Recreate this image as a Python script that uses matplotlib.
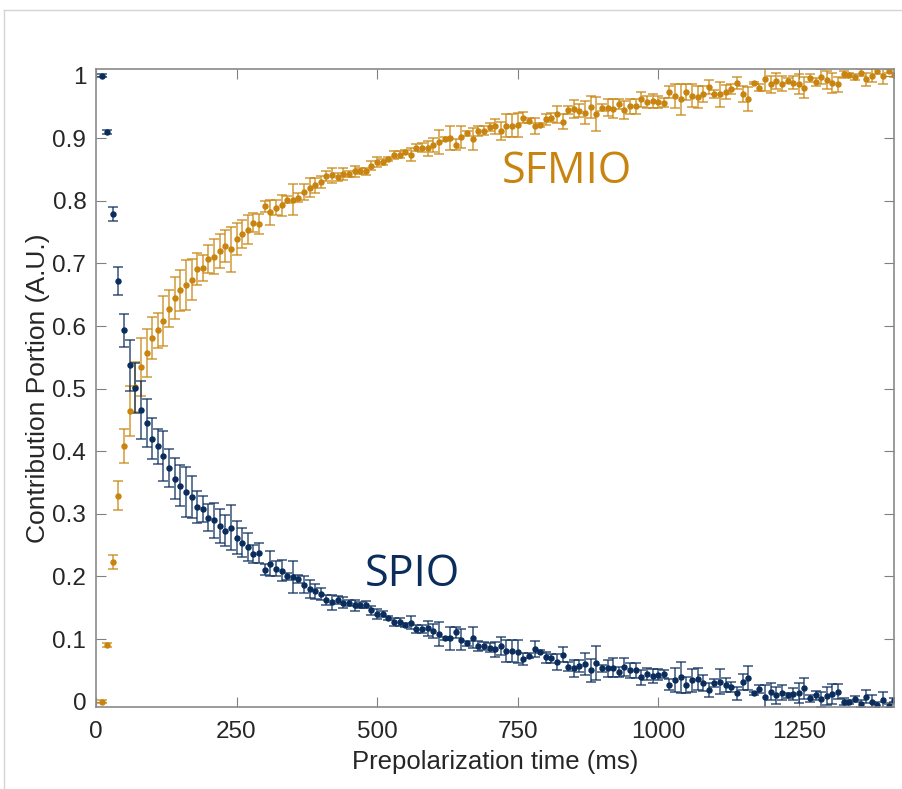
import numpy as np
import matplotlib
matplotlib.use("Agg")
import matplotlib.pyplot as plt
from matplotlib.lines import Line2D

# prepolarization times (ms), sampled every 10 ms
time_ms = np.arange(10, 1430, 10)

spio = [
    1.000, 0.910, 0.779, 0.672, 0.593, 0.537, 0.501, 0.466, 0.445, 0.420,
    0.408, 0.392, 0.373, 0.356, 0.345, 0.335, 0.327, 0.311, 0.308, 0.294,
    0.290, 0.280, 0.273, 0.278, 0.262, 0.254, 0.247, 0.236, 0.238, 0.211,
    0.220, 0.212, 0.209, 0.200, 0.199, 0.196, 0.187, 0.180, 0.176, 0.172,
    0.162, 0.159, 0.162, 0.158, 0.158, 0.154, 0.154, 0.155, 0.146, 0.140,
    0.140, 0.134, 0.127, 0.127, 0.122, 0.126, 0.116, 0.116, 0.117, 0.113,
    0.108, 0.101, 0.101, 0.111, 0.099, 0.093, 0.102, 0.089, 0.089, 0.086,
    0.084, 0.089, 0.081, 0.081, 0.080, 0.068, 0.073, 0.084, 0.080, 0.071,
    0.069, 0.063, 0.075, 0.056, 0.053, 0.057, 0.060, 0.050, 0.062, 0.053,
    0.053, 0.054, 0.048, 0.055, 0.050, 0.050, 0.039, 0.044, 0.041, 0.043,
    0.044, 0.027, 0.034, 0.039, 0.027, 0.034, 0.036, 0.030, 0.019, 0.030,
    0.032, 0.027, 0.023, 0.013, 0.031, 0.038, 0.013, 0.020, 0.008, 0.016,
    0.010, 0.014, 0.010, 0.012, 0.014, 0.021, 0.005, 0.010, 0.004, 0.009,
    0.012, 0.016, 0.000, 0.000, 0.004, -0.003, 0.008, 0.000, -0.006, 0.002,
    -0.007, 0.002,
]

sfmio = [
    0.000, 0.091, 0.223, 0.329, 0.408, 0.464, 0.502, 0.535, 0.557, 0.581,
    0.593, 0.608, 0.628, 0.645, 0.657, 0.666, 0.674, 0.691, 0.693, 0.707,
    0.711, 0.720, 0.728, 0.723, 0.739, 0.747, 0.754, 0.765, 0.763, 0.791,
    0.782, 0.789, 0.793, 0.802, 0.802, 0.805, 0.814, 0.821, 0.825, 0.830,
    0.840, 0.841, 0.838, 0.843, 0.843, 0.847, 0.848, 0.847, 0.856, 0.862,
    0.862, 0.867, 0.873, 0.874, 0.878, 0.874, 0.885, 0.885, 0.884, 0.889,
    0.894, 0.899, 0.900, 0.890, 0.902, 0.908, 0.899, 0.912, 0.912, 0.918,
    0.919, 0.912, 0.920, 0.920, 0.921, 0.933, 0.928, 0.919, 0.921, 0.930,
    0.933, 0.938, 0.926, 0.945, 0.947, 0.944, 0.941, 0.950, 0.939, 0.949,
    0.949, 0.947, 0.954, 0.945, 0.951, 0.951, 0.962, 0.958, 0.960, 0.958,
    0.957, 0.974, 0.968, 0.962, 0.974, 0.968, 0.966, 0.971, 0.982, 0.971,
    0.970, 0.974, 0.979, 0.988, 0.971, 0.963, 0.988, 0.981, 0.994, 0.986,
    0.992, 0.987, 0.992, 0.989, 0.987, 0.981, 0.996, 0.990, 0.998, 0.993,
    0.989, 0.986, 1.002, 1.001, 0.998, 1.005, 0.994, 1.000, 1.008, 1.000,
    1.008, 1.001,
]

# error bar half-lengths (same for both components)
err = [
    0.002, 0.003, 0.011, 0.023, 0.027, 0.040, 0.040, 0.046, 0.038, 0.033,
    0.028, 0.040, 0.030, 0.033, 0.033, 0.040, 0.033, 0.025, 0.021, 0.022,
    0.028, 0.027, 0.025, 0.036, 0.026, 0.023, 0.023, 0.015, 0.016, 0.009,
    0.020, 0.012, 0.017, 0.006, 0.025, 0.007, 0.013, 0.015, 0.012, 0.010,
    0.008, 0.012, 0.006, 0.009, 0.005, 0.009, 0.005, 0.005, 0.007, 0.008,
    0.005, 0.003, 0.006, 0.006, 0.003, 0.010, 0.006, 0.007, 0.012, 0.011,
    0.019, 0.003, 0.019, 0.009, 0.017, 0.004, 0.017, 0.008, 0.007, 0.007,
    0.012, 0.014, 0.018, 0.018, 0.019, 0.009, 0.004, 0.013, 0.003, 0.009,
    0.007, 0.013, 0.012, 0.007, 0.014, 0.010, 0.018, 0.018, 0.027, 0.006,
    0.013, 0.015, 0.008, 0.014, 0.012, 0.012, 0.012, 0.010, 0.011, 0.009,
    0.007, 0.009, 0.019, 0.025, 0.013, 0.018, 0.018, 0.013, 0.011, 0.006,
    0.020, 0.011, 0.008, 0.010, 0.013, 0.019, 0.002, 0.006, 0.019, 0.014,
    0.013, 0.012, 0.004, 0.010, 0.016, 0.017, 0.006, 0.007, 0.012, 0.015,
    0.016, 0.012, 0.005, 0.003, 0.005, 0.005, 0.010, 0.010, 0.005, 0.014,
    0.003, 0.003,
]

navy = "#0b2d5c"
gold = "#c8840f"

plt.rcParams["font.family"] = ["Liberation Sans", "DejaVu Sans"]

fig = plt.figure(figsize=(9.02, 7.89), dpi=100)
ax = fig.add_axes([0.1064, 0.1036, 0.8851, 0.8086])

for vals, col in [(sfmio, gold), (spio, navy)]:
    eb = ax.errorbar(time_ms, vals, yerr=err, fmt="o", color=col, ms=3.6,
                     ecolor=col, elinewidth=1.2, capsize=3.8, capthick=1.2)
    for part in eb[1] + eb[2]:
        part.set_alpha(0.75)

ax.text(837, 0.846, "SFMIO", color=gold, fontsize=31, ha="center", va="center",
        family="Open Sans")
ax.text(562, 0.202, "SPIO", color=navy, fontsize=31, ha="center", va="center",
        family="Open Sans")

ax.set_xlim(0, 1420)
ax.set_ylim(-0.009, 1.0102)
ax.set_xticks([0, 250, 500, 750, 1000, 1250])
ax.set_yticks(np.arange(0, 1.01, 0.1))
ax.set_yticklabels(["0", "0.1", "0.2", "0.3", "0.4", "0.5", "0.6", "0.7", "0.8", "0.9", "1"])

ax.tick_params(direction="in", length=7, width=0.8, colors="#808080",
               labelcolor="#262626", labelsize=17.5, top=True, right=True)
ax.tick_params(axis="y", pad=7)
ax.tick_params(axis="x", pad=10)
for sp in ax.spines.values():
    sp.set_color("#8a8a8a")
    sp.set_linewidth(1.2)

ax.set_xlabel("Prepolarization time (ms)", fontsize=18.5, color="#262626", labelpad=5)
ax.set_ylabel("Contribution Portion (A.U.)", fontsize=19, color="#262626", labelpad=2)

# screenshot frame
fig.add_artist(Line2D([4 / 902, 1], [1 - 10 / 789] * 2, transform=fig.transFigure,
                      color="#d4d4d4", lw=1))
fig.add_artist(Line2D([4 / 902] * 2, [0, 1 - 10 / 789], transform=fig.transFigure,
                      color="#d4d4d4", lw=1))

fig.savefig("out.png", dpi=100)
